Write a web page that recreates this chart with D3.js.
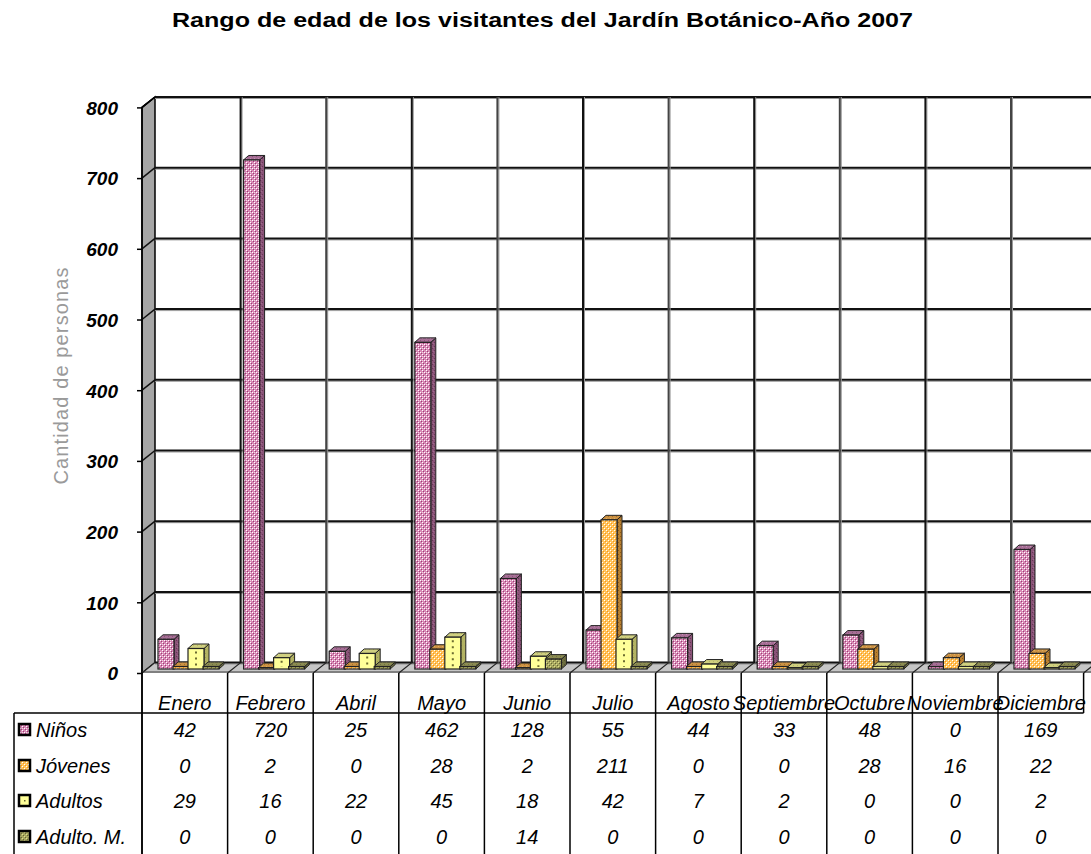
<!DOCTYPE html>
<html>
<head>
<meta charset="utf-8">
<script src="https://cdn.jsdelivr.net/npm/d3@7"></script>
<style>
  html, body { margin: 0; padding: 0; background: #fff; }
  svg { display: block; font-family: "Liberation Sans", Arial, sans-serif; }
</style>
</head>
<body>
<svg id="chart" width="1091" height="854"></svg>
<script>
// ---- data ----
const title = "Rango de edad de los visitantes del Jardín Botánico-Año 2007";
const yTitle = "Cantidad de personas";
const months = ["Enero","Febrero","Abril","Mayo","Junio","Julio","Agosto","Septiembre","Octubre","Noviembre","Diciembre"];
const series = ["Niños","Jóvenes","Adultos","Adulto. M."];
const ninos   = [42,720,25,462,128,55,44,33,48,0,169];
const jovenes = [0,2,0,28,2,211,0,0,28,16,22];
const adultos = [29,16,22,45,18,42,7,2,0,0,2];
const adultoM = [0,0,0,0,14,0,0,0,0,0,0];
const values = [ninos, jovenes, adultos, adultoM];
const yTicks = [0,100,200,300,400,500,600,700,800];

// ---- geometry ----
const svg = d3.select("#chart");
const x0 = 142, step = 85.6;
const x = d3.scaleBand().domain(months).range([x0, x0 + months.length * step]).padding(0);
const y = d3.scaleLinear().domain([0, 800]).range([673, 107.4]);
const DX = 13, DY = -10.4;           // full depth of the floor/wall
const BX = 5, BY = -4;               // bar plane offset
const bdx = 5, bdy = -4.5;           // bar depth
const xs = d3.scaleBand().domain(series).range([11, 71]).padding(0);
const bw = 16;

// ---- patterns ----
const defs = svg.append("defs");
function pat(id, base, dots) {
  const p = defs.append("pattern").attr("id", id).attr("width", 4).attr("height", 4)
    .attr("patternUnits", "userSpaceOnUse");
  p.append("rect").attr("width", 4).attr("height", 4).attr("fill", base);
  dots.forEach(d => p.append("rect").attr("x", d[0]).attr("y", d[1]).attr("width", 1).attr("height", 1).attr("fill", d[2]));
}
pat("pNf", "#d889b6", [[0,0,"#fff"],[2,2,"#fff"],[1,1,"#9c3f74"],[3,3,"#9c3f74"],[2,0,"#f4d4e6"]]);
pat("pNs", "#8a5478", [[0,0,"#6a3658"],[2,2,"#6a3658"],[1,3,"#a06c8e"]]);
pat("pNt", "#a76f96", [[0,0,"#8a5478"],[2,2,"#c690b4"]]);
pat("pJf", "#ffc45e", [[0,0,"#fff"],[2,2,"#fff"],[1,1,"#ff9410"],[3,3,"#ff9410"]]);
pat("pJs", "#b98030", [[0,0,"#8c5a18"],[2,2,"#8c5a18"]]);
pat("pJt", "#cc9244", [[0,0,"#a87228"],[2,2,"#e0b060"]]);
pat("pAf", "#ffff99", []);
pat("pAs", "#b3b363", [[1,1,"#9a9a4c"]]);
pat("pAt", "#d0d080", [[1,1,"#b8b868"]]);
pat("pMf", "#a8a860", [[0,0,"#e0e08a"],[2,2,"#e0e08a"],[1,1,"#666633"],[3,3,"#666633"]]);
pat("pMs", "#6e6e40", [[0,0,"#55552e"],[2,2,"#55552e"]]);
pat("pMt", "#8c8c52", [[0,0,"#707040"],[2,2,"#a8a868"]]);
const fills = [
  {f:"url(#pNf)", s:"url(#pNs)", t:"url(#pNt)", k:"url(#pNf)"},
  {f:"url(#pJf)", s:"url(#pJs)", t:"url(#pJt)", k:"url(#pJf)"},
  {f:"url(#pAf)", s:"url(#pAs)", t:"url(#pAt)", k:"url(#pAf)"},
  {f:"url(#pMf)", s:"url(#pMs)", t:"url(#pMt)", k:"url(#pMf)"}
];

// ---- title ----
svg.append("text").attr("x", 172).attr("y", 27)
  .attr("textLength", 741).attr("lengthAdjust", "spacingAndGlyphs")
  .attr("font-size", 20).attr("font-weight", "bold").attr("fill", "#000")
  .text(title);

// ---- y axis title ----
svg.append("text").attr("transform", "translate(68,376) rotate(-90)")
  .attr("text-anchor", "middle").attr("font-size", 20).attr("fill", "#9a9a9a")
  .attr("textLength", 217).attr("lengthAdjust", "spacing")
  .text(yTitle);

// ---- walls ----
const xRight = x0 + months.length * step; // front right
svg.append("rect").attr("x", x0 + DX).attr("y", y(800) + DY).attr("width", 1200).attr("height", y(0) - y(800)).attr("fill", "#fff");
svg.append("polygon")
  .attr("points", [[x0, y(800)], [x0 + DX, y(800) + DY], [x0 + DX, y(0) + DY], [x0, y(0)]].map(p => p.join(",")).join(" "))
  .attr("fill", "#a6a6a6").attr("stroke", "#000").attr("stroke-width", 1.5);
svg.append("polygon")
  .attr("points", [[x0, y(0)], [x0 + DX, y(0) + DY], [xRight + DX + 20, y(0) + DY], [xRight + 20, y(0)]].map(p => p.join(",")).join(" "))
  .attr("fill", "#c6c6c6").attr("stroke", "none");
svg.append("line").attr("x1", x0).attr("x2", 1091).attr("y1", y(0) - 1).attr("y2", y(0) - 1)
  .attr("stroke", "#808080").attr("stroke-width", 2);

const grid = svg.append("g");
yTicks.forEach(t => {
  const yb = y(t) + DY;
  grid.append("line").attr("x1", x0 + DX).attr("x2", 1091).attr("y1", yb + 1.5).attr("y2", yb + 1.5)
    .attr("stroke", "#9a9a9a").attr("stroke-width", 1);
  grid.append("line").attr("x1", x0 + DX).attr("x2", 1091).attr("y1", yb).attr("y2", yb)
    .attr("stroke", "#111").attr("stroke-width", 2);
  if (t > 0) {
    grid.append("line").attr("x1", x0).attr("x2", x0 + DX).attr("y1", y(t)).attr("y2", yb)
      .attr("stroke", "#111").attr("stroke-width", 1.5);
  }
});
months.forEach((m, i) => {
  if (i === 0) return;
  const xb = x(m) + DX;
  grid.append("line").attr("x1", xb + 1.5).attr("x2", xb + 1.5).attr("y1", y(800) + DY).attr("y2", y(0) + DY)
    .attr("stroke", "#9a9a9a").attr("stroke-width", 1);
  grid.append("line").attr("x1", xb).attr("x2", xb).attr("y1", y(800) + DY).attr("y2", y(0) + DY)
    .attr("stroke", i % 2 ? "#111" : "#444").attr("stroke-width", 2);
});
months.concat(["_end"]).forEach((m, i) => {
  const xf = x0 + i * step;
  grid.append("line").attr("x1", xf).attr("x2", xf + DX).attr("y1", y(0)).attr("y2", y(0) + DY)
    .attr("stroke", "#222").attr("stroke-width", 1.2);
});
svg.append("line").attr("x1", x0).attr("y1", y(800)).attr("x2", x0 + DX).attr("y2", y(800) + DY)
  .attr("stroke", "#000").attr("stroke-width", 1.5);

// ---- bars ----
const bars = svg.append("g");
months.forEach((m, i) => {
  series.forEach((s, j) => {
    const v = values[j][i];
    const xl = x(m) + BX + xs(s);
    const yb = y(0) + BY;
    let yt = y(v) + BY;
    if (v === 0) yt = yb - 2.5;
    const g = bars.append("g");
    const pts = a => a.map(p => p.join(",")).join(" ");
    g.append("polygon").attr("points", pts([[xl + bw, yt], [xl + bw + bdx, yt + bdy], [xl + bw + bdx, yb + bdy], [xl + bw, yb]]))
      .attr("fill", fills[j].s).attr("stroke", "#222").attr("stroke-width", 1);
    g.append("polygon").attr("points", pts([[xl, yt], [xl + bdx, yt + bdy], [xl + bw + bdx, yt + bdy], [xl + bw, yt]]))
      .attr("fill", fills[j].t).attr("stroke", "#222").attr("stroke-width", 1);
    g.append("rect").attr("x", xl).attr("y", yt).attr("width", bw).attr("height", yb - yt)
      .attr("fill", fills[j].f).attr("stroke", "#222").attr("stroke-width", 1.2);
    if (j === 2 && v > 4) {
      g.append("line").attr("x1", xl + bw / 2).attr("x2", xl + bw / 2).attr("y1", yt + 3).attr("y2", yb - 2)
        .attr("stroke", "#6b6b30").attr("stroke-width", 2).attr("stroke-dasharray", "2,4");
    }
  });
});

// ---- y axis ----
const yAxis = d3.axisLeft(y).tickValues(yTicks).tickSize(5).tickPadding(19).tickFormat(d3.format("d"));
const ag = svg.append("g").attr("transform", `translate(${x0},0)`).call(yAxis);
ag.select(".domain").attr("stroke", "#000").attr("stroke-width", 1.5).attr("d", `M0,${y(800)}V854`);
ag.selectAll(".tick line").attr("stroke", "#000").attr("stroke-width", 1.5);
ag.selectAll(".tick text").attr("font-size", 19).attr("font-weight", "bold").attr("font-style", "italic")
  .attr("fill", "#000").attr("font-family", "Liberation Sans, Arial, sans-serif").attr("dy", "0.36em");

// ---- data table ----
const tbl = svg.append("g").attr("font-style", "italic").attr("font-size", 20).attr("fill", "#000");
tbl.append("line").attr("x1", 14).attr("x2", xRight).attr("y1", 713).attr("y2", 713).attr("stroke", "#000").attr("stroke-width", 1.5);
tbl.append("line").attr("x1", 14).attr("x2", 14).attr("y1", 713).attr("y2", 854).attr("stroke", "#000").attr("stroke-width", 1.5);
months.concat(["_end"]).forEach((m, i) => {
  const xv = x0 + i * step;
  tbl.append("line").attr("x1", xv).attr("x2", xv).attr("y1", y(0)).attr("y2", i === months.length ? 713 : 854)
    .attr("stroke", "#000").attr("stroke-width", 1.5);
});
months.forEach(m => {
  tbl.append("text").attr("x", x(m) + step / 2).attr("y", 710).attr("text-anchor", "middle").text(m);
});
const rowY = [730, 766, 801, 837];
series.forEach((s, j) => {
  tbl.append("rect").attr("x", 19).attr("y", rowY[j] - 6).attr("width", 11).attr("height", 11)
    .attr("fill", fills[j].k).attr("stroke", "#000").attr("stroke-width", 2.5);
  if (j === 2) tbl.append("rect").attr("x", 24).attr("y", rowY[j] - 1).attr("width", 1.5).attr("height", 1.5).attr("fill", "#666633");
  tbl.append("text").attr("x", 36).attr("y", rowY[j] + 7).text(s);
  months.forEach((m, i) => {
    tbl.append("text").attr("x", x(m) + step / 2).attr("y", rowY[j] + 7).attr("text-anchor", "middle").text(values[j][i]);
  });
});
</script>
</body>
</html>
